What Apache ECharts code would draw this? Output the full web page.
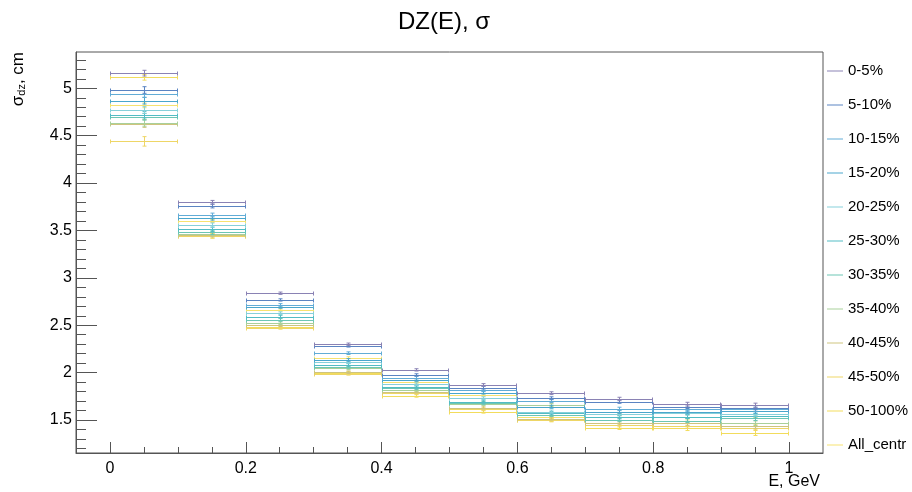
<!DOCTYPE html>
<html><head><meta charset="utf-8">
<script src="https://cdn.jsdelivr.net/npm/echarts@6/dist/echarts.min.js"></script>
<style>html,body{margin:0;padding:0;background:#fff}#c{width:912px;height:492px}</style>
</head><body><div id="c"></div>
<script>
// Bin edges in E (GeV)
const binEdges = [0, 0.1, 0.2, 0.3, 0.4, 0.5, 0.6, 0.7, 0.8, 0.9, 1.0];
// Centrality classes
const centLabels = ['0-5%','5-10%','10-15%','15-20%','20-25%','25-30%','30-35%','35-40%','40-45%','45-50%','50-100%','All_centr'];
// sigma_dz per bin (cm)
const sig_0_5    = [5.160, 3.797, 2.838, 2.300, 2.029, 1.870, 1.783, 1.722, 1.667, 1.656];
const sig_5_10   = [4.982, 3.758, 2.767, 2.282, 1.976, 1.842, 1.730, 1.694, 1.641, 1.631];
const sig_10_15  = [4.940, 3.663, 2.714, 2.205, 1.947, 1.814, 1.701, 1.617, 1.614, 1.614];
const sig_15_20  = [4.869, 3.631, 2.693, 2.134, 1.923, 1.789, 1.640, 1.589, 1.585, 1.593];
const sig_20_25  = [4.771, 3.557, 2.627, 2.110, 1.878, 1.730, 1.589, 1.561, 1.572, 1.564];
const sig_25_30  = [4.722, 3.513, 2.591, 2.081, 1.849, 1.694, 1.572, 1.530, 1.536, 1.543];
const sig_30_35  = [4.700, 3.480, 2.556, 2.060, 1.835, 1.680, 1.554, 1.501, 1.494, 1.519];
const sig_35_40  = [4.635, 3.466, 2.521, 2.046, 1.818, 1.670, 1.659, 1.589, 1.536, 1.466];
const sig_40_45  = [4.628, 3.455, 2.500, 2.004, 1.800, 1.631, 1.515, 1.473, 1.466, 1.438];
const sig_45_50  = [4.440, 3.445, 2.475, 1.990, 1.783, 1.614, 1.501, 1.448, 1.438, 1.420];
const sig_50_100 = [5.116, 3.442, 2.480, 1.995, 1.757, 1.589, 1.500, 1.420, 1.413, 1.367];
const sig_all    = [4.820, 3.600, 2.661, 2.158, 1.899, 1.765, 1.530, 1.561, 1.494, 1.543];
// statistical errors
const err_0_5    = [0.030, 0.020, 0.012, 0.012, 0.012, 0.014, 0.015, 0.018, 0.020, 0.022];
const err_5_10   = [0.035, 0.020, 0.012, 0.012, 0.012, 0.014, 0.015, 0.018, 0.020, 0.022];
const err_10_15  = [0.035, 0.020, 0.014, 0.014, 0.014, 0.015, 0.016, 0.018, 0.020, 0.022];
const err_15_20  = [0.035, 0.022, 0.014, 0.014, 0.014, 0.015, 0.016, 0.018, 0.020, 0.022];
const err_20_25  = [0.035, 0.022, 0.014, 0.014, 0.014, 0.015, 0.016, 0.018, 0.020, 0.022];
const err_25_30  = [0.035, 0.022, 0.014, 0.014, 0.014, 0.015, 0.016, 0.018, 0.020, 0.022];
const err_30_35  = [0.035, 0.022, 0.014, 0.014, 0.014, 0.015, 0.016, 0.018, 0.020, 0.024];
const err_35_40  = [0.035, 0.022, 0.014, 0.014, 0.014, 0.015, 0.016, 0.018, 0.020, 0.024];
const err_40_45  = [0.040, 0.022, 0.014, 0.014, 0.014, 0.015, 0.016, 0.018, 0.022, 0.026];
const err_45_50  = [0.050, 0.024, 0.016, 0.016, 0.016, 0.016, 0.018, 0.020, 0.024, 0.030];
const err_50_100 = [0.030, 0.024, 0.016, 0.016, 0.016, 0.016, 0.018, 0.020, 0.024, 0.030];
const err_all    = [0.025, 0.015, 0.010, 0.010, 0.010, 0.012, 0.012, 0.014, 0.016, 0.018];
// axis tick labels
const xTickLabels = [0, 0.2, 0.4, 0.6, 0.8, 1];
const yTickLabels = [1.5, 2, 2.5, 3, 3.5, 4, 4.5, 5];

const sigmas = [sig_0_5, sig_5_10, sig_10_15, sig_15_20, sig_20_25, sig_25_30, sig_30_35, sig_35_40, sig_40_45, sig_45_50, sig_50_100, sig_all];
const errors = [err_0_5, err_5_10, err_10_15, err_15_20, err_20_25, err_25_30, err_30_35, err_35_40, err_40_45, err_45_50, err_50_100, err_all];
const colors = ['#8a82b4','#5b84c2','#62acd6','#4aa6cc','#86d0da','#52bcc4','#6cc6b4','#a9d09a','#cfc47e','#eed666','#f2dc5c','#f6e270'];

const xMinor = [], yMinor = [];
for (let k = 1; k <= 20; k++) { if (k % 4 !== 0) xMinor.push(+(k * 0.05).toFixed(2)); }
for (let k = 12; k <= 53; k++) { if (k % 5 !== 0) yMinor.push(+(k / 10).toFixed(1)); }

const X_MIN = -0.05, X_MAX = 1.05, Y_MIN = 1.152, Y_MAX = 5.383;

function renderItem(params, api) {
  const lo = api.value(0), hi = api.value(1), y = api.value(2), e = api.value(3);
  const c = (lo + hi) / 2;
  const pL = api.coord([lo, y]), pR = api.coord([hi, y]);
  const pT = api.coord([c, y + e]), pB = api.coord([c, y - e]);
  const color = api.visual('color');
  const st = { stroke: color, lineWidth: 1 };
  const yy = Math.round(pL[1]) + 0.5;
  const xl = Math.round(pL[0]) + 0.5, xr = Math.round(pR[0]) - 0.5, xc = Math.round(pT[0]) + 0.5;
  const cap = 2;
  const ln = (x1, y1, x2, y2) => ({ type: 'line', shape: { x1, y1, x2, y2 }, style: st });
  return {
    type: 'group',
    children: [
      ln(xl, yy, xr, yy),
      ln(xl, yy - cap, xl, yy + cap),
      ln(xr, yy - cap, xr, yy + cap),
      ln(xc, pT[1], xc, pB[1]),
      ln(xc - cap, pT[1], xc + cap, pT[1]),
      ln(xc - cap, pB[1], xc + cap, pB[1])
    ]
  };
}

const series = centLabels.map((name, s) => ({
  name,
  type: 'custom',
  renderItem,
  itemStyle: { color: colors[s] },
  encode: { x: [0, 1], y: 2 },
  data: sigmas[s].map((v, i) => [binEdges[i], binEdges[i + 1], v, errors[s][i]]),
  z: 20 - s
}));

const FONT = 'Liberation Sans';
const legendBase = {
  orient: 'vertical', left: 827, padding: 0, itemGap: 53,
  icon: 'rect', itemWidth: 16, itemHeight: 1,
  textStyle: { fontFamily: FONT, fontSize: 15, lineHeight: 14, color: '#000' }
};
const axisCommon = { min: X_MIN, max: X_MAX };
const chart = echarts.init(document.getElementById('c'));
chart.setOption({
  animation: false,
  textStyle: { fontFamily: FONT },
  title: { text: 'DZ(E), σ', left: 393, top: 5, textStyle: { fontFamily: FONT, fontSize: 24, fontWeight: 'normal', color: '#000' } },
  grid: { left: 76, right: 89, top: 52, bottom: 39, show: true, borderColor: '#555', borderWidth: 1, backgroundColor: 'transparent' },
  legend: [
    Object.assign({}, legendBase, { top: 63.5, data: centLabels.filter((_, i) => i % 2 === 0) }),
    Object.assign({}, legendBase, { top: 97.5, data: centLabels.filter((_, i) => i % 2 === 1) })
  ],
  xAxis: [
    { type: 'value', ...axisCommon, position: 'bottom',
      axisLine: { show: true, onZero: false, lineStyle: { color: '#555', width: 1 } },
      axisTick: { show: true, inside: true, length: 11, customValues: xTickLabels, lineStyle: { color: '#555' } },
      axisLabel: { customValues: xTickLabels, fontSize: 16, color: '#000', margin: 8, fontFamily: FONT },
      splitLine: { show: false } },
    { type: 'value', ...axisCommon, position: 'bottom',
      axisLine: { show: false, onZero: false },
      axisTick: { show: true, inside: true, length: 6, customValues: xMinor, lineStyle: { color: '#555' } },
      axisLabel: { show: false }, splitLine: { show: false } }
  ],
  yAxis: [
    { type: 'value', min: Y_MIN, max: Y_MAX, position: 'left',
      axisLine: { show: true, onZero: false, lineStyle: { color: '#555', width: 1 } },
      axisTick: { show: true, inside: true, length: 21, customValues: yTickLabels, lineStyle: { color: '#555' } },
      axisLabel: { customValues: yTickLabels, fontSize: 16, color: '#000', margin: 4, fontFamily: FONT },
      splitLine: { show: false } },
    { type: 'value', min: Y_MIN, max: Y_MAX, position: 'left',
      axisLine: { show: false, onZero: false },
      axisTick: { show: true, inside: true, length: 10, customValues: yMinor, lineStyle: { color: '#555' } },
      axisLabel: { show: false }, splitLine: { show: false } }
  ],
  graphic: [
    { type: 'text', x: 820, y: 474, style: { text: 'E, GeV', fontFamily: FONT, fontSize: 16, fill: '#000', align: 'right', verticalAlign: 'top' } },
    { type: 'text', x: 18, y: 52, rotation: Math.PI / 2,
      style: { text: '{a|σ}{b|dz}{a|, cm}', align: 'right', verticalAlign: 'middle',
        rich: { a: { fontFamily: FONT, fontSize: 17, color: '#000' },
                b: { fontFamily: FONT, fontSize: 11, color: '#000', verticalAlign: 'bottom', padding: [8, 0, 0, 0] } } } }
  ],
  series
});
</script></body></html>
